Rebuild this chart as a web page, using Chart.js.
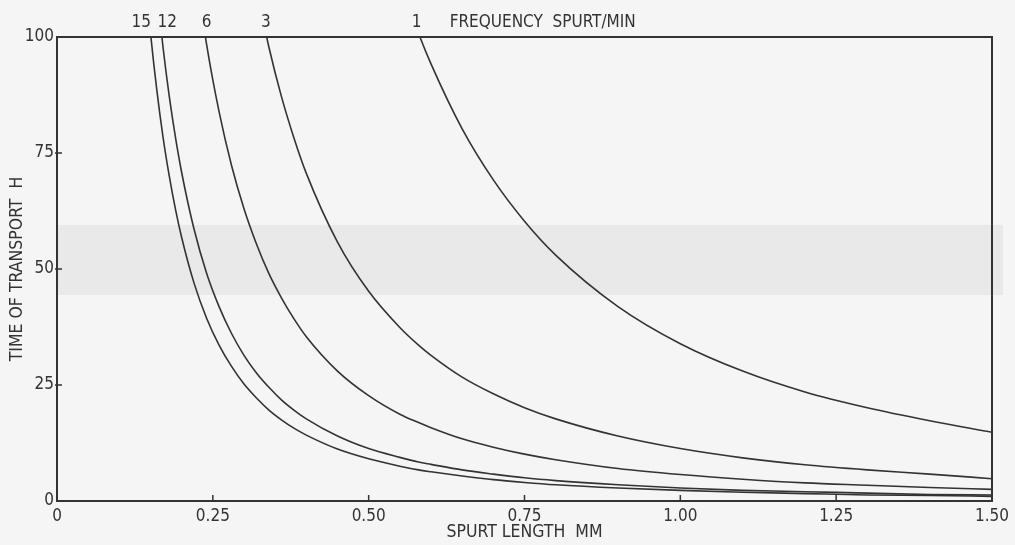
<!DOCTYPE html>
<html>
<head>
<meta charset="utf-8">
<script src="https://cdn.jsdelivr.net/npm/chart.js@4.4.1/dist/chart.umd.min.js"></script>
<style>
  html, body { margin: 0; padding: 0; background: #f5f5f5; }
  #wrap { width: 1015px; height: 545px; }
</style>
</head>
<body>
<div id="wrap"><canvas id="chart-spurt"></canvas></div>
<script>
// spurt length (mm) sample points, shared by all curves
const spurtLength = [0.14, 0.15, 0.16, 0.17, 0.18, 0.19, 0.20, 0.22, 0.24, 0.26, 0.28, 0.30, 0.32, 0.34, 0.36, 0.38, 0.40,
  0.45, 0.50, 0.55, 0.58, 0.60, 0.65, 0.70, 0.75, 0.80, 0.90, 1.00, 1.10, 1.20, 1.30, 1.40, 1.50];

// time of transport (h), one list per frequency (spurt/min)
const freq15 = [115.8, 100.9, 88.7, 78.5, 70.1, 62.9, 56.8, 46.9, 39.4, 33.6, 29.0, 25.2, 22.2, 19.6, 17.5, 15.7, 14.2,
  11.2, 9.1, 7.5, 6.7, 6.3, 5.4, 4.6, 4.0, 3.5, 2.8, 2.3, 1.9, 1.6, 1.3, 1.2, 1.0];
const freq12 = [null, null, 110.5, 97.9, 87.3, 78.4, 70.8, 58.5, 49.1, 41.9, 36.1, 31.4, 27.6, 24.5, 21.8, 19.6, 17.7,
  14.0, 11.3, 9.4, 8.4, 7.9, 6.7, 5.8, 5.0, 4.4, 3.5, 2.8, 2.3, 2.0, 1.7, 1.4, 1.3];
const freq6 = [null, null, null, null, null, null, null, 117.1, 98.4, 83.9, 72.3, 63.0, 55.4, 49.0, 43.8, 39.3, 35.4,
  28.0, 22.7, 18.7, 16.9, 15.8, 13.4, 11.6, 10.1, 8.9, 7.0, 5.7, 4.7, 3.9, 3.4, 2.9, 2.5];
const freq3 = [null, null, null, null, null, null, null, null, null, null, null, null, 110.4, 97.8, 87.2, 78.3, 70.6,
  55.8, 45.2, 37.4, 33.6, 31.4, 26.7, 23.1, 20.1, 17.7, 14.0, 11.3, 9.3, 7.8, 6.7, 5.8, 4.8];
const freq1 = [null, null, null, null, null, null, null, null, null, null, null, null, null, null, null, null, null,
  null, null, 112.1, 100.8, 94.2, 80.2, 69.2, 60.3, 53.0, 41.9, 33.9, 28.0, 23.5, 20.1, 17.3, 14.8];

// curve labels written above the top edge, with the x value they sit at
const freqLabels = ["15", "12", "6", "3", "1"];
const freqLabelX = [0.135, 0.177, 0.24, 0.335, 0.577];
const freqTitle = "FREQUENCY  SPURT/MIN";
const freqTitleX = 0.63;

const xTicks = [0, 0.25, 0.5, 0.75, 1.0, 1.25, 1.5];
const yTicks = [0, 25, 50, 75, 100];

// shaded band of the scanned paper (y values)
const bandFrom = 44.4;
const bandTo = 59.5;

const ink = "#333333";
const fontFamily = "'DejaVu Sans Condensed', 'DejaVu Sans', sans-serif";

function toPoints(values) {
  return spurtLength.map((x, i) => ({ x: x, y: values[i] }));
}

function curve(label, values) {
  return {
    label: label,
    data: toPoints(values),
    borderColor: ink,
    borderWidth: 1.6,
    pointRadius: 0,
    fill: false,
    cubicInterpolationMode: "monotone",
  };
}

// paper, band, frame, inward ticks and the curve labels
const plotterLook = {
  id: "plotterLook",
  beforeDraw(chart) {
    const { ctx, chartArea, scales } = chart;
    ctx.save();
    ctx.fillStyle = "#f5f5f5";
    ctx.fillRect(0, 0, chart.width, chart.height);
    const top = scales.y.getPixelForValue(bandTo);
    const bottom = scales.y.getPixelForValue(bandFrom);
    ctx.fillStyle = "#e9e9e9";
    ctx.fillRect(chartArea.left, top, chart.width - 12 - chartArea.left, bottom - top);
    ctx.restore();
  },
  afterDatasetsDraw(chart) {
    const { ctx, chartArea, scales } = chart;
    ctx.save();
    ctx.strokeStyle = ink;
    ctx.lineWidth = 2;
    ctx.strokeRect(chartArea.left, chartArea.top, chartArea.right - chartArea.left, chartArea.bottom - chartArea.top);

    ctx.lineWidth = 1.5;
    ctx.beginPath();
    xTicks.slice(1, -1).forEach((v) => {
      const px = scales.x.getPixelForValue(v);
      ctx.moveTo(px, chartArea.bottom);
      ctx.lineTo(px, chartArea.bottom - 6);
    });
    yTicks.slice(1, -1).forEach((v) => {
      const py = scales.y.getPixelForValue(v);
      ctx.moveTo(chartArea.left - 2, py);
      ctx.lineTo(chartArea.left + 5, py);
    });
    ctx.stroke();

    ctx.fillStyle = ink;
    ctx.font = "17px " + fontFamily;
    ctx.textBaseline = "alphabetic";
    ctx.textAlign = "center";
    freqLabels.forEach((t, i) => {
      ctx.fillText(t, scales.x.getPixelForValue(freqLabelX[i]), chartArea.top - 10);
    });
    ctx.textAlign = "left";
    ctx.fillText(freqTitle, scales.x.getPixelForValue(freqTitleX), chartArea.top - 10);
    ctx.restore();
  },
};

const ctxSpurt = document.getElementById("chart-spurt");

new Chart(ctxSpurt, {
  type: "line",
  data: {
    datasets: [
      curve("15", freq15),
      curve("12", freq12),
      curve("6", freq6),
      curve("3", freq3),
      curve("1", freq1),
    ],
  },
  options: {
    responsive: true,
    maintainAspectRatio: false,
    animation: false,
    layout: { padding: { top: 37, right: 23, left: 0, bottom: 0 } },
    plugins: {
      legend: { display: false },
      tooltip: { enabled: false },
    },
    scales: {
      x: {
        type: "linear",
        min: 0,
        max: 1.5,
        afterBuildTicks: (scale) => {
          scale.ticks = xTicks.map((v) => ({ value: v }));
        },
        afterFit: (scale) => {
          scale.height = 44;
        },
        grid: { display: false, drawTicks: false },
        border: { display: false },
        ticks: {
          color: ink,
          padding: 5,
          maxRotation: 0,
          font: { family: fontFamily, size: 17 },
          callback: (v) => (v === 0 ? "0" : v.toFixed(2)),
        },
        title: {
          display: true,
          text: "SPURT LENGTH  MM",
          color: ink,
          padding: { top: 0, bottom: 2 },
          font: { family: fontFamily, size: 17.5 },
        },
      },
      y: {
        min: 0,
        max: 100,
        afterBuildTicks: (scale) => {
          scale.ticks = yTicks.map((v) => ({ value: v }));
        },
        afterFit: (scale) => {
          scale.width = 57;
        },
        grid: { display: false, drawTicks: false },
        border: { display: false },
        ticks: {
          color: ink,
          padding: 3,
          font: { family: fontFamily, size: 17 },
        },
        title: {
          display: true,
          text: "TIME OF TRANSPORT  H",
          color: ink,
          padding: { top: 7, bottom: 0 },
          font: { family: fontFamily, size: 17.5 },
        },
      },
    },
  },
  plugins: [plotterLook],
});
</script>
</body>
</html>
